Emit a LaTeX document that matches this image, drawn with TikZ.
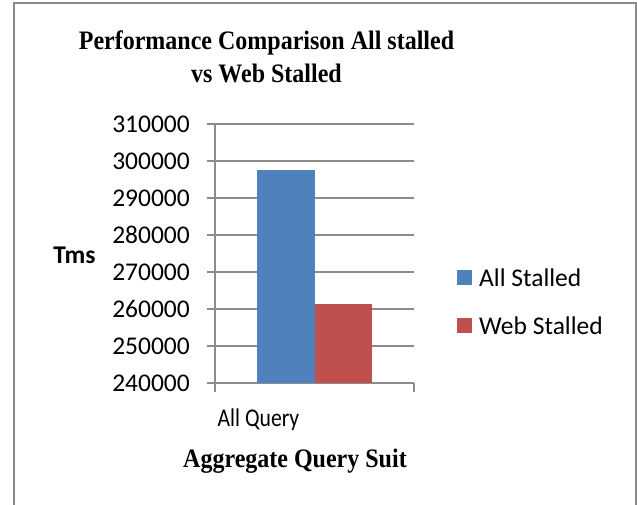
\documentclass[tikz,border=0pt]{standalone}
\usepackage{fontspec}
\setmainfont{Carlito}
\newfontfamily\titlefont{Liberation Serif}
\definecolor{allcol}{HTML}{4F81BD}
\definecolor{webcol}{HTML}{C0504D}
\definecolor{gridcol}{HTML}{8C8C8C}
\definecolor{framecol}{HTML}{898989}
\begin{document}
\begin{tikzpicture}[x=1pt, y=1pt,
    axislab/.style={inner sep=0pt, font=\fontsize{25.5}{30}\selectfont},
    titlelab/.style={inner sep=0pt, align=center, yscale=1.11, font=\titlefont\bfseries\fontsize{24}{29}\selectfont},
    legbox/.style={inner sep=0pt, minimum size=15pt}]
    \useasboundingbox (0,0) rectangle (637,505);
    % frame round the chart, open at the bottom
    \draw[framecol, line width=2pt] (14,0)--(14,501.5)--(636,501.5)--(636,0);
    \node[titlelab, anchor=north] (title) at (266.5,474) {Performance Comparison All stalled\\vs Web Stalled};
    \begin{scope}[shift={(215,122)}, y=37pt]
        % one unit up is 10000 Tms, starting at 240000
        \foreach \i in {0,...,7}{
            \pgfmathtruncatemacro\v{24+\i}
            \draw[gridcol, line width=1.3pt] (-8,\i)--(199,\i);
            \node[axislab, anchor=east] (tick\i) at (-25,\i) {\v0000};
        }
        \fill[allcol] (42,0) rectangle (100,5.76);
        \fill[webcol] (100,0) rectangle (157,2.14);
        \draw[gridcol, line width=1.3pt] (0,7)--(0,-0.24);
        \draw[gridcol, line width=1.3pt] (199,0)--(199,-0.24);
    \end{scope}
    \node[axislab, font=\bfseries\fontsize{25.5}{30}\selectfont] (ytitle) at (74.5,249.5) {Tms};
    \node[axislab, anchor=base, xscale=0.85] (xtick) at (258.5,78.3) {All Query};
    \node[titlelab, anchor=base] (xtitle) at (295,37) {Aggregate Query Suit};
    % legend
    \node[legbox, fill=allcol] (allkey) at (464.5,227.5) {};
    \node[axislab, anchor=west] (alllab) at (479,227.5) {All Stalled};
    \node[legbox, fill=webcol] (webkey) at (464.5,179.5) {};
    \node[axislab, anchor=west] (weblab) at (479,179.5) {Web Stalled};
\end{tikzpicture}
\end{document}
